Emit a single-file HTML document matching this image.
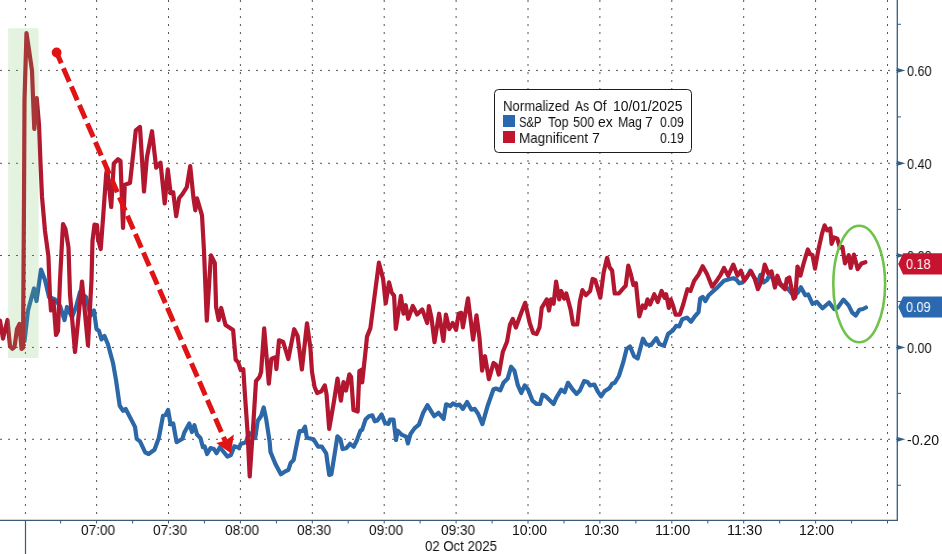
<!DOCTYPE html><html><head><meta charset="utf-8"><style>
html,body{margin:0;padding:0;background:#fff;}
#c{position:relative;width:942px;height:554px;overflow:hidden;background:#fff;font-family:"Liberation Sans",sans-serif;color:#111;}
.t{position:absolute;white-space:nowrap;will-change:transform;font-size:13.9px;line-height:20px;transform-origin:0 0;}
#lg{position:absolute;left:493.7px;top:88.6px;width:196.2px;height:62.3px;border:1.3px solid #1c1c1c;border-radius:4.5px;background:#fff;box-sizing:content-box;}

</style></head><body><div id="c">
<svg width="942" height="554" viewBox="0 0 942 554" style="position:absolute;left:0;top:0">
<rect x="0" y="0" width="942" height="554" fill="#ffffff"/>
<line x1="25.4" y1="0" x2="25.4" y2="520" stroke="#555555" stroke-width="1" stroke-dasharray="2 6"/>
<line x1="96.6" y1="0" x2="96.6" y2="520" stroke="#555555" stroke-width="1" stroke-dasharray="2 6"/>
<line x1="168.5" y1="0" x2="168.5" y2="520" stroke="#555555" stroke-width="1" stroke-dasharray="2 6"/>
<line x1="240.4" y1="0" x2="240.4" y2="520" stroke="#555555" stroke-width="1" stroke-dasharray="2 6"/>
<line x1="312.3" y1="0" x2="312.3" y2="520" stroke="#555555" stroke-width="1" stroke-dasharray="2 6"/>
<line x1="384.2" y1="0" x2="384.2" y2="520" stroke="#555555" stroke-width="1" stroke-dasharray="2 6"/>
<line x1="456.1" y1="0" x2="456.1" y2="520" stroke="#555555" stroke-width="1" stroke-dasharray="2 6"/>
<line x1="528.0" y1="0" x2="528.0" y2="520" stroke="#555555" stroke-width="1" stroke-dasharray="2 6"/>
<line x1="599.9" y1="0" x2="599.9" y2="520" stroke="#555555" stroke-width="1" stroke-dasharray="2 6"/>
<line x1="671.8" y1="0" x2="671.8" y2="520" stroke="#555555" stroke-width="1" stroke-dasharray="2 6"/>
<line x1="743.7" y1="0" x2="743.7" y2="520" stroke="#555555" stroke-width="1" stroke-dasharray="2 6"/>
<line x1="815.6" y1="0" x2="815.6" y2="520" stroke="#555555" stroke-width="1" stroke-dasharray="2 6"/>
<line x1="887.5" y1="0" x2="887.5" y2="520" stroke="#555555" stroke-width="1" stroke-dasharray="2 6"/>
<line x1="0" y1="70.4" x2="897" y2="70.4" stroke="#555555" stroke-width="1" stroke-dasharray="2 6"/>
<line x1="0" y1="163.3" x2="897" y2="163.3" stroke="#555555" stroke-width="1" stroke-dasharray="2 6"/>
<line x1="0" y1="255.5" x2="897" y2="255.5" stroke="#555555" stroke-width="1" stroke-dasharray="2 6"/>
<line x1="0" y1="347.4" x2="897" y2="347.4" stroke="#555555" stroke-width="1" stroke-dasharray="2 6"/>
<line x1="0" y1="439.3" x2="897" y2="439.3" stroke="#555555" stroke-width="1" stroke-dasharray="2 6"/>
<polyline points="24.5,341.0 28.0,310.5 34.0,288.5 36.5,301.0 41.0,269.6 45.0,280.0 49.0,297.0 55.0,299.5 60.0,306.0 64.5,320.0 67.0,307.0 72.0,317.0 76.0,307.0 80.0,292.0 86.0,297.0 90.5,315.6 94.0,310.5 96.5,329.0 99.0,331.0 101.5,339.4 104.5,336.0 108.0,344.5 113.0,363.0 116.0,380.0 119.7,405.7 123.1,410.7 125.7,409.0 135.0,426.9 136.7,438.8 140.0,441.3 145.2,452.3 148.6,454.0 154.5,449.8 158.8,438.0 163.0,415.8 165.6,415.0 168.1,410.0 170.6,424.3 173.2,423.5 176.6,442.2 182.5,438.8 184.2,432.8 189.3,423.5 191.9,432.0 194.4,425.2 197.0,434.5 200.4,437.9 202.9,447.2 204.6,446.4 207.1,454.0 210.5,448.1 213.9,449.0 216.5,453.2 219.9,447.2 223.3,451.5 227.5,456.6 230.9,455.0 234.3,446.4 237.7,447.2 239.0,448.2 240.7,444.0 245.8,442.2 249.2,433.0 255.2,438.0 257.7,421.0 261.1,416.0 263.7,407.4 266.2,419.3 269.6,441.4 270.5,452.0 275.7,464.6 280.9,474.2 285.4,471.3 288.4,469.8 290.6,463.1 293.6,460.1 297.0,443.0 299.5,431.1 302.5,431.1 305.0,426.7 306.9,437.8 313.6,439.3 318.1,446.7 321.8,446.7 326.2,453.4 329.2,475.0 331.4,474.2 334.5,455.0 337.4,436.3 340.4,439.3 342.6,449.0 346.3,448.2 350.0,443.8 353.7,446.7 356.7,440.8 360.4,430.7 362.1,429.8 365.5,419.6 368.9,416.2 372.3,415.4 374.8,421.3 377.4,420.5 381.6,414.5 385.0,423.0 388.4,423.9 390.1,419.6 393.5,419.6 396.0,440.0 397.7,430.7 402.0,434.9 406.2,436.6 407.9,443.4 410.5,434.0 414.7,428.1 418.9,424.7 423.2,412.8 427.4,405.2 434.2,416.2 438.5,412.8 443.6,418.8 446.1,404.3 450.4,406.0 452.9,403.5 457.0,405.5 459.5,404.6 462.9,408.9 467.1,402.0 471.4,409.7 474.8,408.9 478.2,414.0 482.4,424.1 487.5,406.3 493.5,389.3 496.0,388.5 500.3,390.4 503.5,382.8 507.7,378.6 511.1,366.7 514.5,370.9 517.9,385.4 521.3,393.0 524.7,385.4 528.1,389.6 532.4,400.6 536.6,404.0 540.0,404.0 542.5,394.7 545.9,396.4 553.6,404.0 556.1,398.1 561.2,389.6 564.6,392.2 568.0,382.8 572.2,388.8 576.5,393.9 579.9,390.5 584.1,381.1 587.5,382.0 590.1,385.4 594.3,384.5 597.7,391.3 601.1,396.4 604.5,391.3 609.6,387.9 612.1,383.7 614.7,382.8 618.9,376.0 623.2,362.4 626.6,348.9 630.0,346.5 634.1,356.3 637.6,358.6 642.9,338.7 646.4,344.5 651.1,345.1 656.4,338.1 659.3,344.0 664.0,345.7 668.1,334.0 672.8,330.5 676.3,325.8 679.2,326.4 682.2,319.3 686.9,317.6 691.0,321.7 694.2,317.2 698.5,312.2 700.2,298.6 702.7,296.9 705.3,301.1 708.7,295.2 716.3,288.4 724.0,280.7 729.9,279.0 733.3,278.2 736.7,279.9 739.2,283.3 742.6,282.4 746.9,277.4 750.3,270.6 753.7,276.5 757.9,283.3 760.4,274.8 763.8,282.4 767.2,279.9 769.8,274.0 775.0,282.0 780.0,284.0 784.0,286.0 787.2,288.0 793.7,296.0 797.8,292.6 800.9,287.3 805.3,295.3 808.2,294.5 812.5,303.9 816.8,301.8 822.6,308.3 829.1,302.5 834.2,309.0 837.8,307.5 843.5,299.6 848.6,305.4 852.2,312.6 855.8,315.5 859.4,309.7 863.0,309.0 865.9,307.5" fill="none" stroke="#2c67a8" stroke-width="4.2" stroke-linejoin="round" stroke-linecap="round"/>
<polyline points="0.0,320.7 3.0,338.6 7.5,320.0 10.0,346.2 12.5,348.8 14.5,347.0 17.0,329.0 19.5,324.0 21.5,348.8 23.0,348.0 24.0,200.0 24.5,100.0 26.5,33.0 29.0,50.0 32.0,70.5 33.0,97.0 34.3,129.0 36.7,98.0 39.0,124.7 40.5,163.3 42.0,196.7 45.0,231.0 48.4,256.0 50.0,297.0 51.0,310.5 53.5,301.0 56.0,335.0 58.0,331.0 60.0,280.0 63.0,224.0 65.5,229.0 68.5,247.5 70.0,294.0 75.0,352.0 82.0,281.5 88.0,345.4 91.5,280.0 92.5,240.7 94.5,224.6 97.0,225.0 98.0,239.0 100.7,249.0 103.2,216.0 106.2,174.0 107.2,168.6 111.2,207.0 113.8,163.5 118.0,159.2 120.5,161.0 123.0,228.0 124.8,184.7 130.0,183.0 135.8,130.4 140.0,127.0 144.0,191.5 146.9,157.5 152.0,131.2 156.2,167.7 160.5,162.6 164.7,203.5 167.8,169.4 170.6,193.2 173.2,192.3 176.2,216.2 179.1,198.3 182.5,194.0 186.8,187.2 190.2,166.0 193.6,199.0 195.3,210.3 197.0,198.4 202.0,215.4 204.0,251.0 206.8,320.7 210.9,255.3 214.8,263.0 216.1,307.2 218.7,320.0 221.2,308.0 225.5,325.0 233.1,330.0 235.7,359.8 238.2,362.3 240.7,370.0 243.3,369.2 245.0,395.6 247.5,431.2 249.7,476.5 251.5,450.0 253.5,421.0 256.0,381.1 259.5,376.9 261.1,372.0 264.2,328.4 268.8,383.7 271.3,359.0 275.5,357.2 276.4,369.1 279.0,340.3 283.2,342.0 288.3,359.0 294.2,329.2 297.6,336.0 301.9,369.5 307.0,323.3 310.4,348.0 312.0,371.8 314.6,387.0 317.1,393.0 321.4,391.3 324.8,385.4 326.5,393.9 329.2,428.8 334.1,400.7 337.5,378.6 340.9,400.7 343.5,382.0 346.0,390.5 349.4,374.3 351.1,376.9 353.5,410.0 357.7,411.5 359.4,371.0 361.5,369.8 362.2,382.5 366.1,346.0 367.0,336.6 370.4,328.1 378.9,262.7 383.1,278.9 385.7,303.5 389.0,282.3 391.6,292.4 394.1,295.8 395.8,329.0 400.9,295.8 403.5,313.7 405.7,305.2 408.2,318.8 412.8,306.0 417.1,314.5 422.2,309.4 427.2,323.0 428.9,306.0 431.5,317.9 434.5,342.2 439.1,313.7 443.4,341.0 445.9,314.5 449.3,329.0 452.7,323.0 456.1,329.8 458.7,313.7 461.2,312.8 462.9,327.3 468.0,298.4 473.1,339.6 476.5,315.4 479.5,338.0 482.1,370.7 485.0,356.2 488.9,379.1 493.5,363.0 496.0,364.7 498.8,374.6 502.8,352.0 507.0,341.8 510.0,324.7 512.8,319.0 515.9,327.5 520.5,314.7 525.2,302.8 529.8,323.2 533.2,333.0 536.6,334.0 539.5,327.4 541.7,307.9 546.8,299.4 549.0,310.5 551.0,299.4 553.6,303.7 556.1,281.6 559.2,299.4 561.2,291.0 564.3,298.6 566.3,293.5 570.6,309.6 573.1,324.5 577.3,324.5 579.9,301.1 582.4,290.1 585.8,295.2 590.1,291.0 592.6,279.0 595.2,279.9 596.9,285.8 600.3,297.7 603.7,272.3 607.1,257.8 609.6,267.2 612.1,270.6 614.7,293.5 618.9,293.5 623.2,288.4 625.7,285.8 628.3,265.5 630.8,274.0 633.4,285.0 635.9,283.3 639.3,316.4 642.7,305.4 645.3,307.9 647.5,299.4 650.1,304.5 654.3,294.3 657.7,302.0 661.6,290.9 664.5,297.7 666.2,294.3 668.8,307.9 670.8,299.4 673.0,305.4 675.6,314.7 679.8,314.7 683.2,304.5 687.4,289.2 690.5,290.9 694.2,280.7 698.5,274.8 702.7,266.3 707.0,274.0 712.1,286.7 717.2,279.9 720.6,274.8 724.0,268.0 728.2,275.7 733.3,264.6 737.5,275.7 740.9,270.6 744.3,280.7 746.9,276.5 751.1,271.4 754.5,278.2 757.9,289.2 761.3,281.6 764.7,264.6 768.1,273.1 771.5,271.4 774.9,287.5 777.4,275.7 780.8,285.0 785.1,289.2 786.8,279.0 789.3,277.4 793.6,298.6 795.3,296.9 797.5,266.5 800.4,275.6 803.6,263.5 807.8,249.5 809.9,254.0 812.5,255.2 815.0,268.6 818.2,250.8 822.0,233.6 824.6,225.3 827.1,230.4 830.3,228.5 831.6,243.8 834.1,237.4 837.3,238.7 839.9,247.6 842.4,246.9 845.0,263.5 848.8,255.2 850.7,268.0 853.9,254.6 857.7,269.2 861.5,263.5 865.4,262.2" fill="none" stroke="#b31730" stroke-width="4.2" stroke-linejoin="round" stroke-linecap="round"/>
<rect x="8.1" y="28.2" width="30.4" height="329.8" fill="rgb(110,190,90)" fill-opacity="0.19"/>
<circle cx="56.6" cy="52.5" r="4.9" fill="#e01414"/>
<line x1="56.6" y1="52.5" x2="225.2" y2="441" stroke="#e01414" stroke-width="5" stroke-dasharray="14.8 5.3" stroke-dashoffset="3.05"/>
<path d="M230.9 453.2 L216.2 442.9 L225.0 440.8 L233.9 434.6 Z" fill="#e01414"/>
<ellipse cx="859.2" cy="284" rx="25.9" ry="58.3" fill="none" stroke="#6fc24a" stroke-width="2.6"/>
<line x1="0" y1="520.4" x2="897.8" y2="520.4" stroke="#3c5a74" stroke-width="1.2"/>
<line x1="897.3" y1="0" x2="897.3" y2="520.8" stroke="#2f5f86" stroke-width="1.3"/>
<line x1="25.5" y1="520" x2="25.5" y2="554" stroke="#3c5a74" stroke-width="1.2"/>
<line x1="60.6" y1="520" x2="60.6" y2="523.5" stroke="#3c5a74" stroke-width="1"/>
<line x1="96.6" y1="520" x2="96.6" y2="523.5" stroke="#3c5a74" stroke-width="1"/>
<line x1="132.6" y1="520" x2="132.6" y2="523.5" stroke="#3c5a74" stroke-width="1"/>
<line x1="168.5" y1="520" x2="168.5" y2="523.5" stroke="#3c5a74" stroke-width="1"/>
<line x1="204.4" y1="520" x2="204.4" y2="523.5" stroke="#3c5a74" stroke-width="1"/>
<line x1="240.4" y1="520" x2="240.4" y2="523.5" stroke="#3c5a74" stroke-width="1"/>
<line x1="276.4" y1="520" x2="276.4" y2="523.5" stroke="#3c5a74" stroke-width="1"/>
<line x1="312.3" y1="520" x2="312.3" y2="523.5" stroke="#3c5a74" stroke-width="1"/>
<line x1="348.2" y1="520" x2="348.2" y2="523.5" stroke="#3c5a74" stroke-width="1"/>
<line x1="384.2" y1="520" x2="384.2" y2="523.5" stroke="#3c5a74" stroke-width="1"/>
<line x1="420.1" y1="520" x2="420.1" y2="523.5" stroke="#3c5a74" stroke-width="1"/>
<line x1="456.1" y1="520" x2="456.1" y2="523.5" stroke="#3c5a74" stroke-width="1"/>
<line x1="492.1" y1="520" x2="492.1" y2="523.5" stroke="#3c5a74" stroke-width="1"/>
<line x1="528.0" y1="520" x2="528.0" y2="523.5" stroke="#3c5a74" stroke-width="1"/>
<line x1="564.0" y1="520" x2="564.0" y2="523.5" stroke="#3c5a74" stroke-width="1"/>
<line x1="599.9" y1="520" x2="599.9" y2="523.5" stroke="#3c5a74" stroke-width="1"/>
<line x1="635.9" y1="520" x2="635.9" y2="523.5" stroke="#3c5a74" stroke-width="1"/>
<line x1="671.8" y1="520" x2="671.8" y2="523.5" stroke="#3c5a74" stroke-width="1"/>
<line x1="707.8" y1="520" x2="707.8" y2="523.5" stroke="#3c5a74" stroke-width="1"/>
<line x1="743.7" y1="520" x2="743.7" y2="523.5" stroke="#3c5a74" stroke-width="1"/>
<line x1="779.7" y1="520" x2="779.7" y2="523.5" stroke="#3c5a74" stroke-width="1"/>
<line x1="815.6" y1="520" x2="815.6" y2="523.5" stroke="#3c5a74" stroke-width="1"/>
<line x1="851.6" y1="520" x2="851.6" y2="523.5" stroke="#3c5a74" stroke-width="1"/>
<line x1="887.5" y1="520" x2="887.5" y2="523.5" stroke="#3c5a74" stroke-width="1"/>
<line x1="897" y1="24.3" x2="901" y2="24.3" stroke="#2f5f86" stroke-width="1"/>
<path d="M896.5 67.8 L905.4 70.4 L896.5 73.0 L897.3 70.4 Z" fill="#2f5f86"/>
<line x1="897" y1="116.9" x2="901" y2="116.9" stroke="#2f5f86" stroke-width="1"/>
<path d="M896.5 160.7 L905.4 163.3 L896.5 165.9 L897.3 163.3 Z" fill="#2f5f86"/>
<line x1="897" y1="209.4" x2="901" y2="209.4" stroke="#2f5f86" stroke-width="1"/>
<path d="M896.5 252.9 L905.4 255.5 L896.5 258.1 L897.3 255.5 Z" fill="#2f5f86"/>
<line x1="897" y1="301.5" x2="901" y2="301.5" stroke="#2f5f86" stroke-width="1"/>
<path d="M896.5 344.8 L905.4 347.4 L896.5 350.0 L897.3 347.4 Z" fill="#2f5f86"/>
<line x1="897" y1="393.4" x2="901" y2="393.4" stroke="#2f5f86" stroke-width="1"/>
<path d="M896.5 436.7 L905.4 439.3 L896.5 441.9 L897.3 439.3 Z" fill="#2f5f86"/>
<line x1="897" y1="485.3" x2="901" y2="485.3" stroke="#2f5f86" stroke-width="1"/>
</svg>
<div class="t" style="left:81.30px;top:519.90px;transform:scaleX(0.9824);color:#111">07:00</div>
<div class="t" style="left:153.20px;top:519.90px;transform:scaleX(0.9824);color:#111">07:30</div>
<div class="t" style="left:225.10px;top:519.90px;transform:scaleX(0.9824);color:#111">08:00</div>
<div class="t" style="left:297.00px;top:519.90px;transform:scaleX(0.9824);color:#111">08:30</div>
<div class="t" style="left:368.90px;top:519.90px;transform:scaleX(0.9824);color:#111">09:00</div>
<div class="t" style="left:440.80px;top:519.90px;transform:scaleX(0.9824);color:#111">09:30</div>
<div class="t" style="left:511.69px;top:519.90px;transform:scaleX(1.0121);color:#111">10:00</div>
<div class="t" style="left:583.59px;top:519.90px;transform:scaleX(1.0121);color:#111">10:30</div>
<div class="t" style="left:655.46px;top:519.90px;transform:scaleX(1.0437);color:#111">11:00</div>
<div class="t" style="left:727.36px;top:519.90px;transform:scaleX(1.0437);color:#111">11:30</div>
<div class="t" style="left:799.29px;top:519.90px;transform:scaleX(1.0121);color:#111">12:00</div>
<div class="t" style="left:425.30px;top:535.70px;transform:scaleX(0.9507);color:#111">02 Oct 2025</div>
<div class="t" style="left:907.30px;top:60.90px;transform:scaleX(0.9111);color:#111">0.60</div>
<div class="t" style="left:907.30px;top:153.80px;transform:scaleX(0.9111);color:#111">0.40</div>
<div class="t" style="left:907.30px;top:246.00px;transform:scaleX(0.9111);color:#111">0.20</div>
<div class="t" style="left:907.30px;top:337.90px;transform:scaleX(0.9111);color:#111">0.00</div>
<div class="t" style="left:906.99px;top:429.80px;transform:scaleX(1.0133);color:#111">-0.20</div>
<svg width="942" height="554" style="position:absolute;left:0;top:0"><path d="M898.2 263.9 L903.1 253.3 L942 253.3 L942 274.4 L903.1 274.4 Z" fill="#c6132f"/><path d="M898.2 307 L903.1 296.4 L942 296.4 L942 317.6 L903.1 317.6 Z" fill="#2a69b0"/></svg>
<div class="t" style="left:906.00px;top:253.90px;transform:scaleX(0.9111);color:#fff">0.18</div>
<div class="t" style="left:906.00px;top:297.00px;transform:scaleX(0.9111);color:#fff">0.09</div>
<div id="lg"></div>
<div class="t" style="left:502.66px;top:95.50px;transform:scaleX(0.9449);color:#111">Normalized</div>
<div class="t" style="left:574.70px;top:95.50px;transform:scaleX(0.8687);color:#111">As</div>
<div class="t" style="left:593.49px;top:95.50px;transform:scaleX(0.9071);color:#111">Of</div>
<div class="t" style="left:612.80px;top:95.50px;transform:scaleX(1.0000);color:#111">10/01/2025</div>
<div style="position:absolute;left:503.1px;top:115.3px;width:12px;height:11.4px;background:#2a68b0"></div>
<div class="t" style="left:518.69px;top:111.70px;transform:scaleX(0.8115);color:#111">S&amp;P</div>
<div class="t" style="left:547.60px;top:111.70px;transform:scaleX(0.9182);color:#111">Top</div>
<div class="t" style="left:572.58px;top:111.70px;transform:scaleX(0.9182);color:#111">500</div>
<div class="t" style="left:598.09px;top:111.70px;transform:scaleX(1.0077);color:#111">ex</div>
<div class="t" style="left:617.62px;top:111.70px;transform:scaleX(0.8840);color:#111">Mag</div>
<div class="t" style="left:644.62px;top:111.70px;transform:scaleX(0.9833);color:#111">7</div>
<div class="t" style="left:659.50px;top:111.70px;transform:scaleX(0.8815);color:#111">0.09</div>
<div style="position:absolute;left:503.1px;top:131.4px;width:12px;height:11.4px;background:#c0152d"></div>
<div class="t" style="left:519.03px;top:127.60px;transform:scaleX(0.9714);color:#111">Magnificent</div>
<div class="t" style="left:591.78px;top:127.60px;transform:scaleX(1.0167);color:#111">7</div>
<div class="t" style="left:659.50px;top:127.60px;transform:scaleX(0.8815);color:#111">0.19</div>
</div></body></html>
